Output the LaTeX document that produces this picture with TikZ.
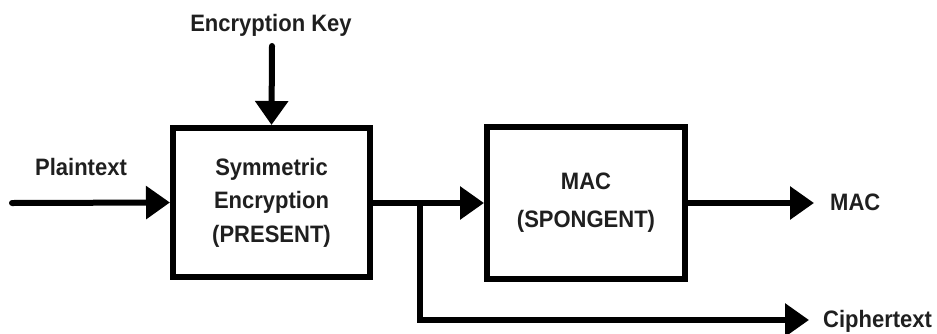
\documentclass[tikz,border=0pt]{standalone}
\usepackage{fontspec}
\usepackage{graphicx}
\setmainfont{Liberation Sans}
\usetikzlibrary{arrows.meta}
\newcommand{\tallt}[1]{\scalebox{1}[1.08]{#1}}
\begin{document}
\begin{tikzpicture}[x=1pt,y=-1pt,
  blk/.style={draw=black, line width=6pt, fill=white, align=center, inner sep=0pt},
  lbl/.style={font=\fontsize{22}{33.5}\selectfont\bfseries, text=black!88, inner sep=0pt},
  conn/.style={line width=6pt, draw=black, line cap=round, line join=miter,
               -{Triangle[length=24pt,width=32pt]}}]
\useasboundingbox (0,0) rectangle (937,333);
\node[blk, minimum width=197pt, minimum height=149pt, lbl, fill=white, draw=black] (enc) at (271.5,202.5)
  {\tallt{Symmetric}\\\tallt{Encryption}\\\tallt{(PRESENT)}};
\node[blk, minimum width=198pt, minimum height=152pt, lbl, fill=white, draw=black,
  font=\fontsize{22}{38}\selectfont\bfseries] (mac) at (586,203) {\tallt{MAC}\\\tallt{(SPONGENT)}};
\node[lbl] (key) at (271,25) {\tallt{Encryption Key}};
\node[lbl] (pt) at (81,167) {\tallt{Plaintext}};
\node[lbl, anchor=west] (macout) at (830,202) {\tallt{MAC}};
\node[lbl, anchor=west] (ct) at (823,321) {\tallt{Ciphertext}};
\coordinate (keystart) at (272,46);
\coordinate (ptstart) at (12,203);
\coordinate (split) at (420,203);
\coordinate (splitdown) at (420,320);
\coordinate (ctend) at (809,320);
\coordinate (macend) at (814,203);
\draw[conn] (keystart) -- (enc.north);
\draw[conn] (ptstart) -- (enc.west);
\draw[conn] (enc.east |- split) -- (mac.west);
\draw[conn] (split) -- (splitdown) -- (ctend);
\draw[conn] (mac.east) -- (macend);
\end{tikzpicture}
\end{document}
